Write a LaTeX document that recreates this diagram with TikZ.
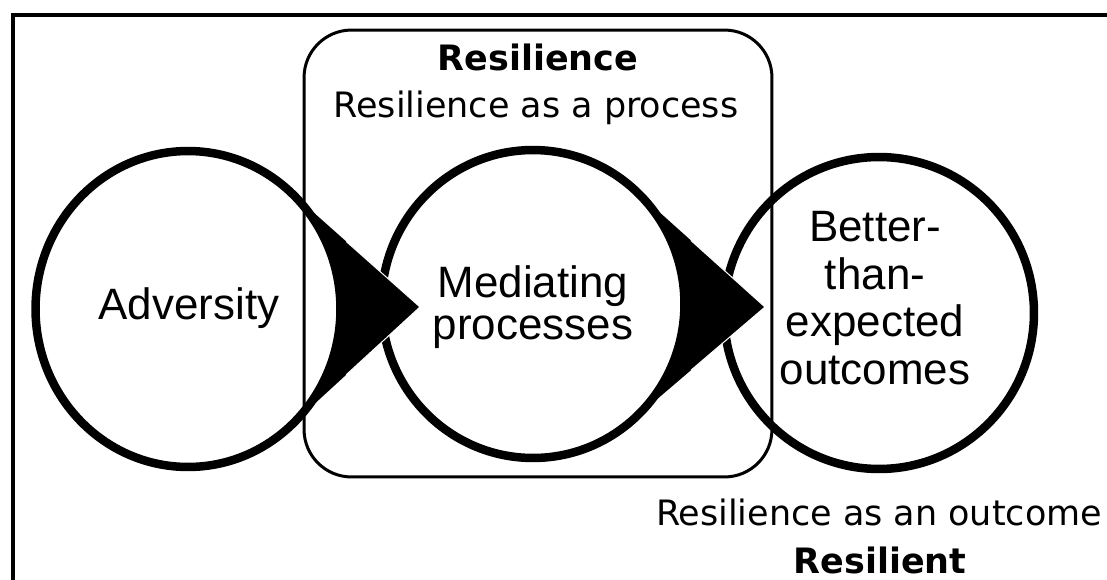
\documentclass[tikz,border=0pt]{standalone}
\usepackage{fontspec}
\setmainfont{Liberation Sans}
\newfontfamily\verd{DejaVu Sans}
\usetikzlibrary{shapes.geometric,calc}
\begin{document}
\begin{tikzpicture}[x=0.02cm,y=-0.02cm,
  ring/.style={draw, ellipse, line width=0.17cm, inner sep=0pt},
  ctext/.style={font=\fontsize{25}{27}\selectfont, align=center, inner sep=0pt},
  vtext/.style={font=\verd\fontsize{19.9}{24}\selectfont, inner sep=0pt, anchor=base},
  vbold/.style={font=\verd\bfseries\fontsize{19.9}{24}\selectfont, inner sep=0pt, anchor=base},
  headfill/.style={fill=black},
  headedge/.style={draw=white, line width=0.02cm}]
\useasboundingbox (0,0) rectangle (1107,579);
\draw[line width=0.07cm] (13,590) -- (13,15) -- (1120,15);
% process box
\node[draw, line width=0.06cm, rounded corners=0.95cm, minimum width=9.36cm, minimum height=8.94cm, inner sep=0pt] (box) at (538,253.5) {};
% circles
\node[ring, minimum width=6.1cm, minimum height=6.32cm] (adv) at (188,309) {};
\node[ring, minimum width=6.06cm, minimum height=6.16cm] (med) at (533,304) {};
\node[ring, minimum width=6.2cm, minimum height=6.24cm] (out) at (879,313) {};
% arrow heads
\coordinate (tipA) at (420,307);
\coordinate (a1) at ($(adv.center)+(50:3.05cm and 3.16cm)$);
\coordinate (a2) at ($(adv.center)+(-50:3.05cm and 3.16cm)$);
\fill[headfill] (a1) -- (tipA) -- (a2) arc[start angle=-50, end angle=50, x radius=3.05cm, y radius=3.16cm] -- cycle;
\draw[headedge] ($(a1)!0.45!(tipA)$) -- (tipA) -- ($(a2)!0.45!(tipA)$);
\coordinate (tipB) at (765,307);
\coordinate (b1) at ($(med.center)+(50:3.03cm and 3.08cm)$);
\coordinate (b2) at ($(med.center)+(-50:3.03cm and 3.08cm)$);
\fill[headfill] (b1) -- (tipB) -- (b2) arc[start angle=-50, end angle=50, x radius=3.03cm, y radius=3.08cm] -- cycle;
\draw[headedge] ($(b1)!0.45!(tipB)$) -- (tipB) -- ($(b2)!0.45!(tipB)$);
% texts
\node[ctext, anchor=base] (advt) at (189,319) {Adversity};
\node[ctext, font=\fontsize{25}{24}\selectfont] (medt) at (533,307) {Mediating\\processes};
\node[ctext] (outt) at (875,298) {Better-\\than-\\expected\\outcomes};
\node[vbold] (res) at (538,70) {Resilience};
\node[vtext] (proc) at (536,117) {Resilience as a process};
\node[vtext] (outc) at (879,525) {Resilience as an outcome};
\node[vbold] (resl) at (880,573) {Resilient};
\end{tikzpicture}
\end{document}
